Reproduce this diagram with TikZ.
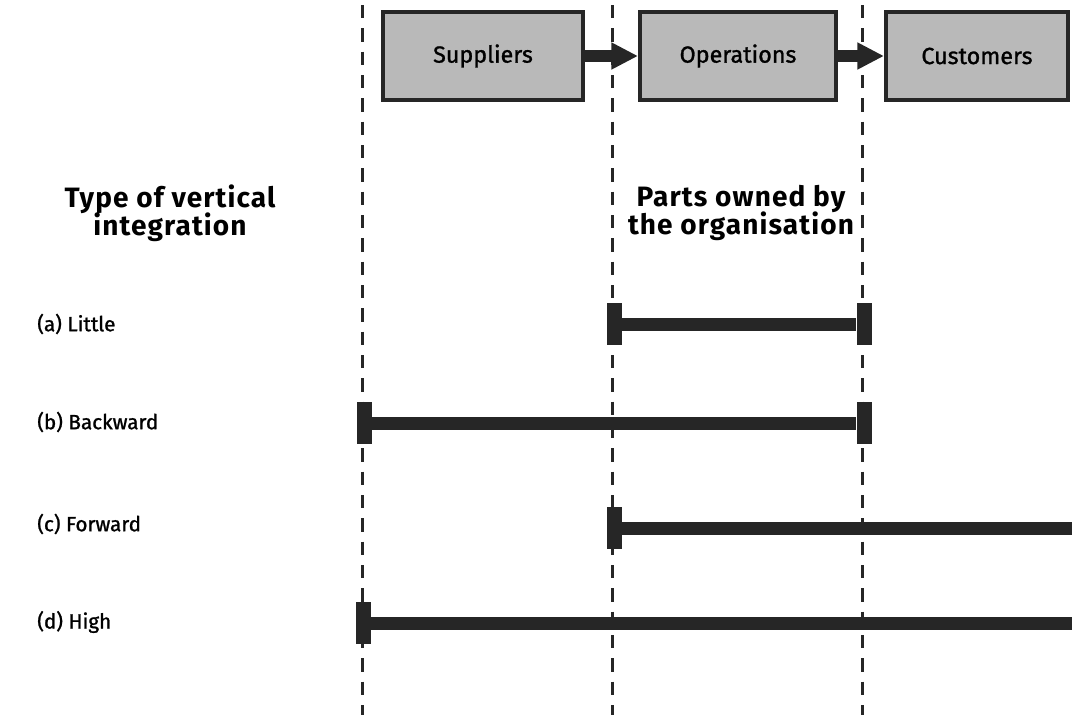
\documentclass[tikz,border=0pt]{standalone}
\usepackage{fontspec}
\setmainfont{Fira Sans}
\newfontfamily\medfont{Fira Sans}[FakeBold=1.2]
\newfontfamily\headfont{Fira Sans Bold}[LetterSpace=4]
\usetikzlibrary{arrows.meta}

\tikzset{
  stage/.style={draw=black!85, line width=3pt, fill=gray!55, minimum width=150pt,
    minimum height=66pt, inner sep=0pt, font=\medfont\fontsize{17.5}{20}\selectfont},
  flow/.style={line width=8.5pt, black!85, -{Triangle[length=20pt,width=19pt]}},
  boundary/.style={line width=2.25pt, black!85, dash pattern=on 10pt off 7.5pt},
  endcap/.style={fill=black!85, minimum width=11.25pt, minimum height=32pt, inner sep=0pt},
  ownbar/.style={line width=9.75pt, black!85},
  rowlabel/.style={anchor=west, inner sep=0pt, font=\medfont\fontsize{15.5}{18}\selectfont},
  heading/.style={align=center, inner sep=0pt, font=\headfont\fontsize{21}{19}\selectfont}
}

\begin{document}
\begin{tikzpicture}[x=0.75pt,y=-0.75pt]
\useasboundingbox (0,0) rectangle (1072,715);

% boundaries of the supply chain
\foreach \x in {362,612,862}
  \draw[boundary] (\x,5) -- (\x,715);

\node[stage] (sup) at (483,56) {Suppliers};
\node[stage, minimum width=147pt] (ops) at (738,56) {Operations};
\node[stage, minimum width=136.5pt] (cus) at (977,56) {Customers};
\draw[flow] (sup) -- (ops);
\draw[flow] (ops) -- (cus);

\node[heading] (typehd) at (170,213) {Type of vertical\\[-2pt]integration};
\node[heading] (ownhd) at (741,213) {Parts owned by\\[-2pt]the organisation};

% (a)
\node[rowlabel] (little) at (37,324) {(a) Little};
\node[endcap] (a1) at (614,324) {};
\node[endcap] (a2) at (864,324) {};
\draw[ownbar] (a1) -- (a2);

% (b)
\node[rowlabel] (backward) at (37,422) {(b) Backward};
\node[endcap] (b1) at (364,423) {};
\node[endcap] (b2) at (864,423) {};
\draw[ownbar] (b1) -- (b2);

% (c)
\node[rowlabel] (forward) at (37,524) {(c) Forward};
\node[endcap] (c1) at (614,528) {};
\coordinate (cend) at (1072,528);
\draw[ownbar] (c1) -- (cend);

% (d)
\node[rowlabel] (high) at (37,622) {(d) High};
\node[endcap] (d1) at (363,623) {};
\coordinate (dend) at (1072,623);
\draw[ownbar] (d1) -- (dend);
\end{tikzpicture}
\end{document}
